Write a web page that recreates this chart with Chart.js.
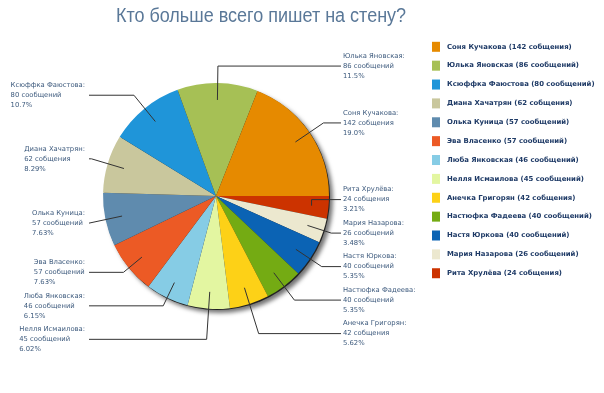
<!DOCTYPE html>
<html>
<head>
<meta charset="utf-8">
<script src="https://cdn.jsdelivr.net/npm/chart.js@4/dist/chart.umd.min.js"></script>
<style>
  html, body { margin: 0; padding: 0; background: #fff; }
  #wrap { width: 604px; height: 393px; position: relative; }
</style>
</head>
<body>
<div id="wrap"><canvas id="wallChart" width="604" height="393"></canvas></div>
<script>
// данные в порядке легенды (против часовой стрелки от 3 часов)
const names = ['Соня Кучакова', 'Юлька Яновская', 'Ксюффка Фаюстова', 'Диана Хачатрян', 'Олька Куница',
  'Эва Власенко', 'Люба Янковская', 'Нелля Исмаилова', 'Анечка Григорян', 'Настюфка Фадеева',
  'Настя Юркова', 'Мария Назарова', 'Рита Хрулёва']
const counts = [142, 86, 80, 62, 57, 57, 46, 45, 42, 40, 40, 26, 24]
const units = ['собщения', 'сообщений', 'сообщений', 'собщения', 'сообщений', 'сообщений', 'сообщений',
  'сообщений', 'собщения', 'сообщений', 'сообщений', 'сообщений', 'собщения']
const percents = ['19.0%', '11.5%', '10.7%', '8.29%', '7.63%', '7.63%', '6.15%', '6.02%', '5.62%', '5.35%', '5.35%', '3.48%', '3.21%']
const colors = ['#e68a00', '#a6c055', '#1f95d9', '#c9c79d', '#5f8bae', '#ec5a25', '#86cce5',
  '#e3f6a1', '#fdd117', '#74ab13', '#0b63b4', '#ece8cf', '#cc3300']
const titleText = 'Кто больше всего пишет на стену?'

// Chart.js рисует по часовой стрелке, поэтому разворачиваем
const rev = a => a.slice().reverse()

const shadowPlugin = {
  id: 'pieShadow',
  beforeDatasetsDraw(chart) {
    const arc = chart.getDatasetMeta(0).data[0]
    if (!arc) return
    const c = chart.ctx
    c.save()
    c.shadowColor = 'rgba(0,0,0,0.55)'
    c.shadowBlur = 4
    c.shadowOffsetX = 3
    c.shadowOffsetY = 3
    c.fillStyle = '#222'
    c.beginPath()
    c.arc(arc.x + 1, arc.y + 1, arc.outerRadius, 0, Math.PI * 2)
    c.fill()
    c.restore()
  }
}

const decorPlugin = {
  id: 'decor',
  afterDraw(chart) {
    const c = chart.ctx
    const meta = chart.getDatasetMeta(0)
    const n = names.length

    // заголовок
    c.save()
    c.font = '20px "Liberation Sans", Arial, sans-serif'
    c.fillStyle = '#5a7898'
    c.textAlign = 'center'
    c.textBaseline = 'middle'
    c.translate(261, 16)
    c.scale(0.9, 1)
    c.fillText(titleText, 0, 0)
    c.restore()

    // подписи-выноски
    const items = []
    for (let i = 0; i < n; i++) {
      const arc = meta.data[n - 1 - i]
      const mid = (arc.startAngle + arc.endAngle) / 2
      const r = arc.outerRadius
      const inner = { x: arc.x + Math.cos(mid) * r * 0.85, y: arc.y + Math.sin(mid) * r * 0.85 }
      const natural = arc.y + Math.sin(mid) * r * 1.15
      const right = Math.cos(mid) >= 0
      items.push({ i, mid, inner, natural, right, y: natural })
    }
    const gap = 33.5
    ;[true, false].forEach(side => {
      const list = items.filter(d => d.right === side).sort((a, b) => a.natural - b.natural)
      // группы перекрывающихся подписей центрируем вокруг среднего
      const groups = list.map(d => [d])
      const pos = g => {
        const mean = g.reduce((s, d) => s + d.natural, 0) / g.length
        return g.map((d, k) => mean + (k - (g.length - 1) / 2) * gap)
      }
      let changed = true
      while (changed) {
        changed = false
        for (let k = 0; k < groups.length - 1; k++) {
          const a = pos(groups[k]), b = pos(groups[k + 1])
          if (b[0] - a[a.length - 1] < gap) {
            groups.splice(k, 2, groups[k].concat(groups[k + 1]))
            changed = true
            break
          }
        }
      }
      groups.forEach(g => pos(g).forEach((y, k) => { g[k].y = y }))
    })

    c.save()
    c.font = '6.8px "DejaVu Sans", Verdana, sans-serif'
    c.textBaseline = 'middle'
    items.forEach(d => {
      const lines = [names[d.i] + ':', counts[d.i] + ' ' + units[d.i], percents[d.i]]
      const endX = d.right ? 341 : 89
      const slope = Math.tan(d.mid)
      let ex = d.inner.x + (d.y - d.inner.y) / (Math.abs(slope) < 1e-6 ? 1e-6 : slope)
      if (Math.abs(d.y - d.inner.y) < 0.5) ex = d.inner.x
      if (d.right) ex = Math.min(Math.max(ex, d.inner.x), endX)
      else ex = Math.max(Math.min(ex, d.inner.x), endX)
      c.strokeStyle = '#333'
      c.lineWidth = 1
      c.beginPath()
      c.moveTo(d.inner.x, d.inner.y)
      c.lineTo(ex, d.y)
      c.lineTo(endX, d.y)
      c.stroke()

      c.fillStyle = '#3d5a7d'
      const w = Math.max(...lines.map(t => c.measureText(t).width))
      const x0 = d.right ? 343 : 85 - w
      lines.forEach((t, k) => c.fillText(t, x0, d.y + (k - 1) * 10))
    })
    c.restore()

    // легенда
    c.save()
    c.font = 'bold 6.9px "DejaVu Sans", Verdana, sans-serif'
    c.textBaseline = 'middle'
    for (let i = 0; i < n; i++) {
      const y = 46.8 + i * 18.87
      c.fillStyle = colors[i]
      c.fillRect(432, y - 5, 8, 10)
      c.fillStyle = '#1e3a66'
      c.fillText(names[i] + ' (' + counts[i] + ' ' + units[i] + ')', 447, y)
    }
    c.restore()
  }
}

const ctx = document.getElementById('wallChart').getContext('2d')
const chart = new Chart(ctx, {
  type: 'pie',
  data: {
    labels: rev(names),
    datasets: [{
      data: rev(counts),
      backgroundColor: rev(colors),
      borderWidth: 0
    }]
  },
  options: {
    responsive: false,
    animation: false,
    rotation: 90,
    layout: { padding: { left: 103, right: 604 - 329, top: 83, bottom: 393 - 309 } },
    plugins: {
      legend: { display: false },
      tooltip: { enabled: false }
    }
  },
  plugins: [shadowPlugin, decorPlugin]
})
</script>
</body>
</html>
